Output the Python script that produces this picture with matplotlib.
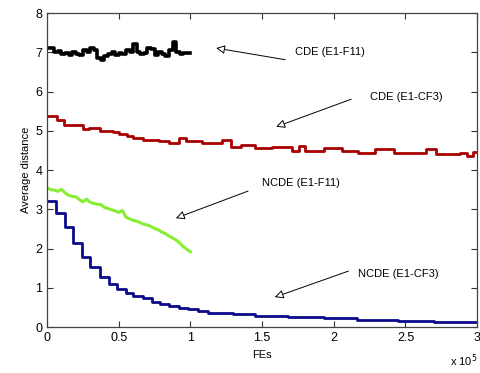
import matplotlib
matplotlib.use("Agg")
import matplotlib.pyplot as plt
from matplotlib.ticker import FuncFormatter

plt.rcParams['font.family'] = ['Liberation Sans', 'DejaVu Sans']

# ---- data (x in units of 1e5 FEs) ----
cde_f11_x = [i * 0.025 for i in range(41)]
cde_f11_y = [7.12, 7.10, 7.00, 7.03, 6.96, 6.98, 6.93, 7.00, 6.95, 6.92,
             7.05, 7.00, 7.10, 7.05, 6.85, 6.80, 6.90, 6.95, 7.00, 6.92,
             6.98, 6.95, 7.05, 7.00, 7.20, 7.00, 6.95, 6.97, 7.12, 7.08,
             6.92, 7.02, 6.95, 6.90, 7.05, 7.25, 7.00, 6.95, 6.97, 6.98, 6.98]

cde_cf3_x = [0, 0.07, 0.12, 0.25, 0.29, 0.37, 0.46, 0.50, 0.56, 0.60, 0.67,
             0.78, 0.85, 0.92, 0.97, 1.08, 1.22, 1.28, 1.35, 1.45, 1.57, 1.71,
             1.76, 1.80, 1.93, 2.06, 2.17, 2.29, 2.42, 2.64, 2.71, 2.88, 2.93,
             2.97, 3.00]
cde_cf3_y = [5.38, 5.27, 5.16, 5.04, 5.07, 4.99, 4.96, 4.93, 4.87, 4.82, 4.77,
             4.73, 4.69, 4.81, 4.74, 4.69, 4.77, 4.59, 4.63, 4.55, 4.58, 4.49,
             4.61, 4.49, 4.56, 4.49, 4.44, 4.53, 4.43, 4.53, 4.40, 4.43, 4.36,
             4.46, 4.46]

ncde_f11_x = [i * 0.025 for i in range(41)]
ncde_f11_y = [3.55, 3.50, 3.49, 3.46, 3.51, 3.42, 3.36, 3.33, 3.32, 3.25,
              3.19, 3.26, 3.18, 3.15, 3.13, 3.12, 3.05, 3.02, 2.99, 2.96,
              2.92, 2.97, 2.80, 2.76, 2.72, 2.70, 2.66, 2.62, 2.60, 2.56,
              2.51, 2.48, 2.42, 2.38, 2.32, 2.27, 2.22, 2.14, 2.05, 1.98, 1.92]

ncde_cf3_x = [0, 0.065, 0.125, 0.18, 0.24, 0.30, 0.37, 0.43, 0.49, 0.55, 0.60,
              0.67, 0.73, 0.79, 0.85, 0.92, 0.98, 1.05, 1.12, 1.30, 1.45, 1.68,
              1.93, 2.16, 2.45, 2.70, 3.00]
ncde_cf3_y = [3.20, 2.90, 2.56, 2.15, 1.79, 1.52, 1.28, 1.11, 0.96, 0.86, 0.80,
              0.73, 0.65, 0.59, 0.54, 0.49, 0.45, 0.42, 0.37, 0.33, 0.29, 0.26,
              0.22, 0.19, 0.16, 0.13, 0.13]

scale = 1e5
labels = ["CDE (E1-F11)", "CDE (E1-CF3)", "NCDE (E1-F11)", "NCDE (E1-CF3)"]
arrow_heads = [(1.16, 7.12), (1.58, 5.08), (0.88, 2.75), (1.57, 0.74)]
arrow_tails = [(1.68, 6.80), (2.14, 5.83), (1.42, 3.49), (2.12, 1.45)]
text_pos = [(1.73, 7.0), (2.25, 5.86), (1.50, 3.67), (2.17, 1.35)]

fig = plt.figure(figsize=(4.81, 3.73), dpi=100)
ax = fig.add_axes([0.098, 0.123, 0.894, 0.842])

ax.plot([v * scale for v in cde_f11_x], cde_f11_y, drawstyle='steps-post',
        color='black', lw=2.6)
ax.plot([v * scale for v in cde_cf3_x], cde_cf3_y, drawstyle='steps-post',
        color='#a80000', lw=2.0)
ax.plot([v * scale for v in ncde_f11_x], ncde_f11_y,
        color='#88ee33', lw=2.2)
ax.plot([v * scale for v in ncde_cf3_x], ncde_cf3_y, drawstyle='steps-post',
        color='#0a0a8a', lw=2.0)

for lab, hd, tl, tp in zip(labels, arrow_heads, arrow_tails, text_pos):
    ax.annotate('', xy=(hd[0] * scale, hd[1]), xytext=(tl[0] * scale, tl[1]),
                arrowprops=dict(arrowstyle='-|>', fc='white', ec='black',
                                lw=0.7, mutation_scale=13))
    ax.text(tp[0] * scale, tp[1], lab, fontsize=8, va='center', ha='left')

ax.set_xlim(0, 3 * scale)
ax.set_ylim(0, 8)
ax.set_xticks([i * 0.5 * scale for i in range(7)])
ax.set_yticks(range(9))
ax.xaxis.set_major_formatter(FuncFormatter(lambda v, p: '%g' % (v / scale)))
ax.tick_params(direction='in', top=True, right=True, labelsize=9,
               length=4, width=0.8, colors='#333333', labelcolor='black')
for s in ax.spines.values():
    s.set_color('#444444')
    s.set_linewidth(0.9)
ax.set_xlabel('FEs', fontsize=8, labelpad=4)
ax.set_ylabel('Average distance', fontsize=8, labelpad=3)
ax.text(1.0, -0.121, r'x 10$^5$', transform=ax.transAxes, ha='right',
        va='baseline', fontsize=8)

fig.savefig('out.png', dpi=100)
